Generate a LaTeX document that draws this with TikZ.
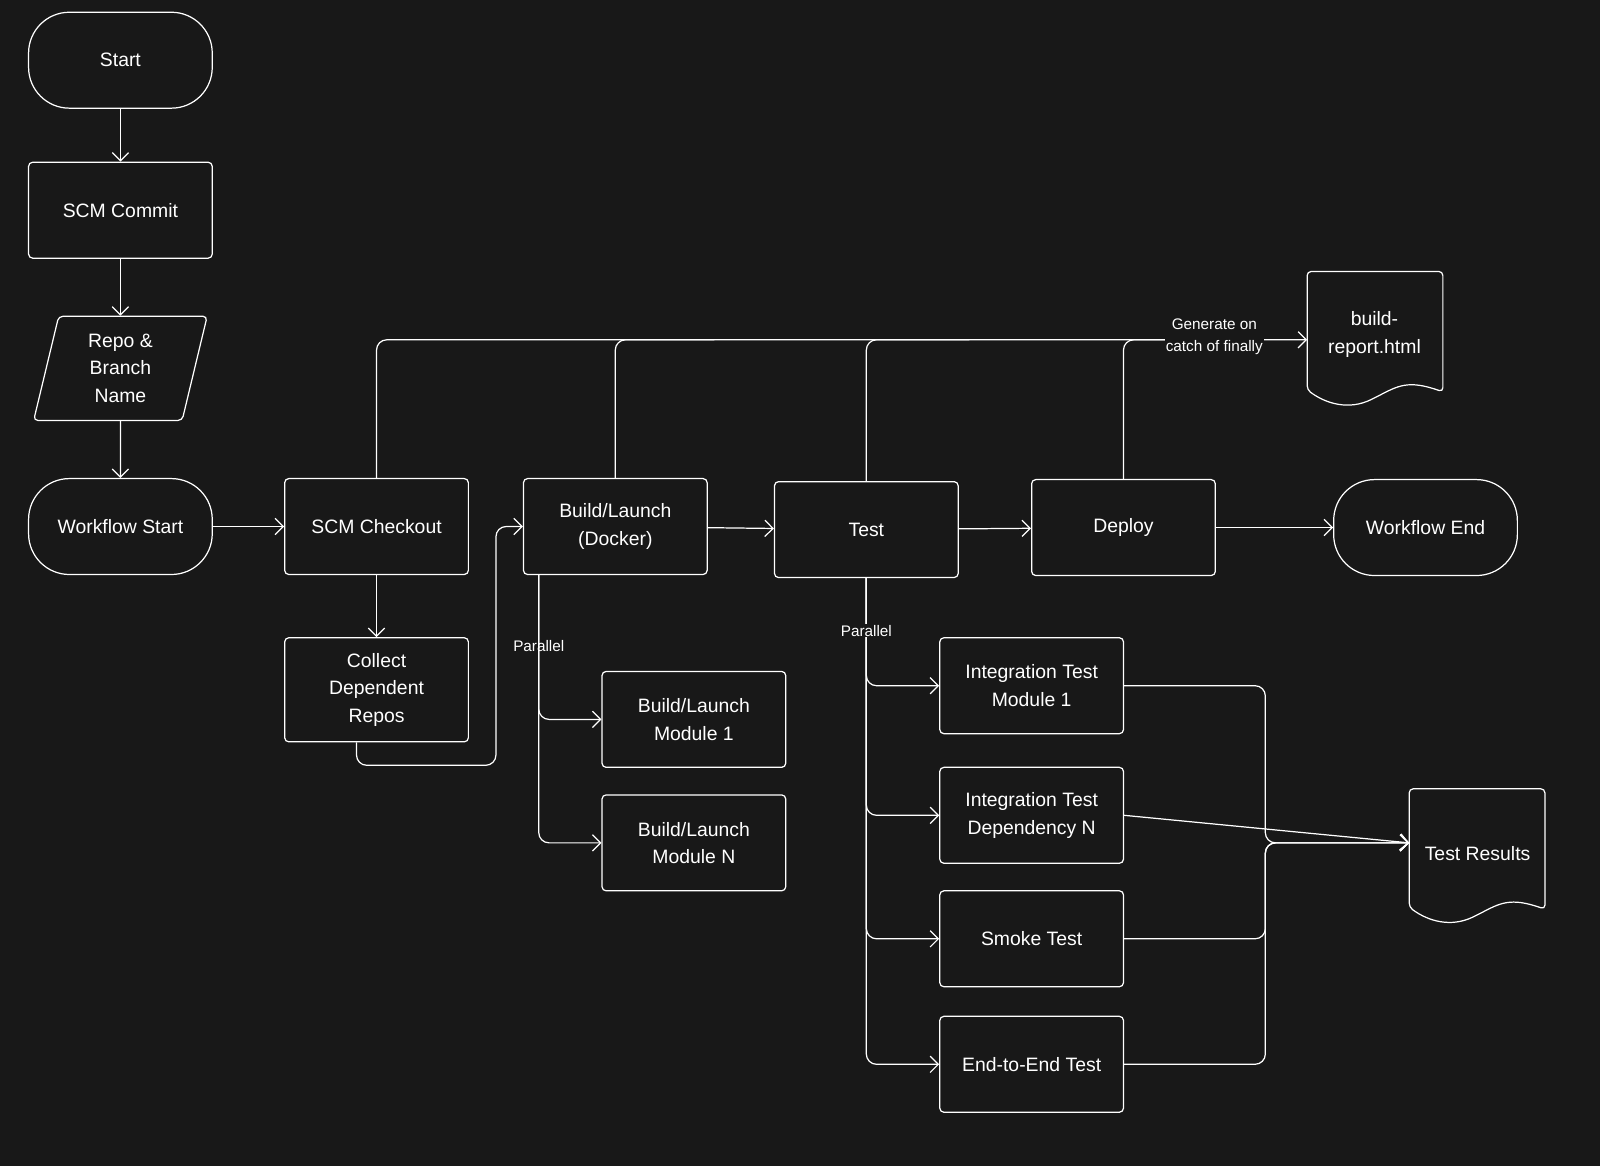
\documentclass[tikz,border=0pt]{standalone}
\usepackage{fontspec}
\setmainfont{Liberation Sans}
\usetikzlibrary{arrows.meta,shapes.geometric}
\definecolor{bg}{HTML}{181818}
\begin{document}
\begin{tikzpicture}[x=1pt,y=-1pt,
  every node/.style={text=white,font=\fontsize{19}{27}\selectfont,align=center},
  box/.style={draw=white,line width=1.2pt,rounded corners=4pt,minimum width=180pt,minimum height=94pt,inner sep=0pt},
  term/.style={draw=white,line width=1.2pt,rounded corners=40pt,minimum width=180pt,minimum height=94pt,inner sep=0pt},
  lbl/.style={font=\fontsize{15}{22}\selectfont},
  ar/.style={draw=white,line width=1.2pt,rounded corners=10pt,-{Straight Barb[length=8pt,width=16pt]}},
  ln/.style={draw=white,line width=1.2pt,rounded corners=10pt}]
\fill[bg] (0,0) rectangle (1568,1143);
\useasboundingbox (0,0) rectangle (1568,1143);
\node[term] (start) at (118,59) {Start};
\node[box] (commit) at (118,206) {SCM Commit};
\node[draw=white,line width=1.2pt,trapezium,trapezium left angle=70,trapezium right angle=110,rounded corners=4pt,minimum width=170pt,minimum height=102pt,inner sep=0pt,trapezium stretches body] (repo) at (118,361) {Repo \&\\Branch\\Name};
\node[term] (wstart) at (118,516) {Workflow Start};
\node[box] (checkout) at (369,516) {SCM Checkout};
\node[box,minimum height=102pt] (collect) at (369,676) {Collect\\Dependent\\Repos};
\node[box] (build) at (603,516) {Build/Launch\\(Docker)};
\node[box] (test) at (849,519) {Test};
\node[box] (deploy) at (1101,517) {Deploy};
\node[term] (wend) at (1397,517) {Workflow End};
\node[box] (bm1) at (680,705) {Build/Launch\\Module 1};
\node[box] (bmn) at (680,826) {Build/Launch\\Module N};
\node[box] (it1) at (1011,672) {Integration Test\\Module 1};
\node[box] (itn) at (1011,799) {Integration Test\\Dependency N};
\node[box] (smoke) at (1011,920) {Smoke Test};
\node[box] (e2e) at (1011,1043) {End-to-End Test};
% documents
\draw[white,line width=1.2pt,rounded corners=4pt] (1281,266) -- (1414,266) -- (1414,384) .. controls (1380,372) and (1370,378) .. (1347,390) .. controls (1322,402) and (1300,396) .. (1281,382) -- cycle;
\node (report) at (1347,328) {build-\\report.html};
\coordinate (reportin) at (1281,333);
\draw[white,line width=1.2pt,rounded corners=4pt] (1381,773) -- (1514,773) -- (1514,891) .. controls (1480,879) and (1470,885) .. (1447,897) .. controls (1422,909) and (1400,903) .. (1381,889) -- cycle;
\node (results) at (1448,836) {Test Results};
\coordinate (resin) at (1381,826);
% main flow
\draw[ar] (start) -- (commit);
\draw[ar] (commit) -- (repo);
\draw[ar] (repo) -- (wstart);
\draw[ar] (wstart) -- (checkout);
\draw[ar] (checkout) -- (collect);
\draw[ar] (collect.south west) ++(71,0) |- (486,750) |- (build.west);
\draw[ar] (build) -- (test);
\draw[ar] (test) -- (deploy);
\draw[ar] (deploy) -- (wend);
% report
\draw[ar] (checkout.north) |- (reportin);
\draw[ln] (build.north) |- (700,333);
\draw[ln] (test.north) |- (950,333);
\draw[ln] (deploy.north) |- (1200,333);
\node[lbl,fill=bg,inner sep=1pt] at (1190,330) {Generate on\\catch of finally};
% parallel build
\coordinate (bp) at (528,563);
\draw[ar] (bp) |- (bm1.west);
\draw[ar] (bp) |- (bmn.west);
\node[lbl] at (528,633) {Parallel};
% parallel test
\draw[ar] (test.south) |- (it1.west);
\draw[ar] (test.south) |- (itn.west);
\draw[ar] (test.south) |- (smoke.west);
\draw[ar] (test.south) |- (e2e.west);
\node[lbl,fill=bg,inner sep=1pt] at (849,618) {Parallel};
% results
\draw[ar] (it1.east) -| (1240,826) -- (resin);
\draw[ar] (itn.east) -- (resin);
\draw[ar] (smoke.east) -| (1240,826) -- (resin);
\draw[ar] (e2e.east) -| (1240,826) -- (resin);
\end{tikzpicture}
\end{document}
